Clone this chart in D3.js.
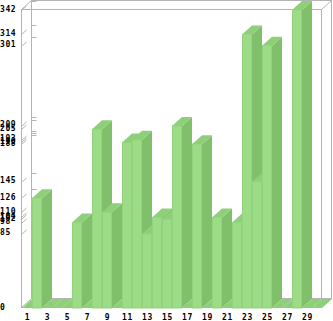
<!DOCTYPE html>
<html>
<head>
<meta charset="utf-8">
<script src="https://cdn.jsdelivr.net/npm/d3@7"></script>
<style>
	body { margin: 0; background: #fff; }
	text { font-family: "DejaVu Sans Mono", monospace; font-size: 8px; font-weight: bold; letter-spacing: 0.6px; fill: #000; }
</style>
</head>
<body>
<div class="chart"></div>
<script>
var categories = ["1", "2", "3", "4", "5", "6", "7", "8", "9", "10",
	"11", "12", "13", "14", "15", "16", "17", "18", "19", "20",
	"21", "22", "23", "24", "25", "26", "27", "28", "29", "30"];
var values = [0, 126, 0, 0, 0, 98, 0, 205, 110, 0,
	190, 193, 85, 104, 102, 209, 0, 188, 0, 104,
	0, 98, 314, 145, 301, 0, 0, 342, 0, 0];
var xTickLabels = ["1", "3", "5", "7", "9", "11", "13", "15", "17", "19", "21", "23", "25", "27", "29"];

var w = 333,
	h = 321,
	plotLeft = 22,
	plotRight = 322,
	plotTop = 10,
	plotBottom = 308,
	dx = 10,
	dy = 9;

var svg = d3.select(".chart").append("svg").attr("width", w).attr("height", h);

var xScale = d3.scaleBand().domain(categories).range([plotLeft, plotRight]).padding(0);
var yScale = d3.scaleLinear().domain([0, 342]).range([plotBottom, plotTop]);

// tick values are the distinct data values
var yTicks = Array.from(new Set(values)).sort((a, b) => a - b);

// wireframe box
var frame = svg.append("g").attr("fill", "none").attr("stroke", "#b4b4b4").attr("stroke-width", 1);
var L = plotLeft - 0.5, R = plotRight - 0.5, T = plotTop - 0.5, B = plotBottom - 0.5;
frame.append("rect").attr("x", L + dx).attr("y", T - dy).attr("width", R - L).attr("height", B - T);
frame.append("rect").attr("x", L).attr("y", T).attr("width", R - L).attr("height", B - T);
[[L, T], [R, T], [R, B], [L, B]].forEach(function (p) {
	frame.append("line").attr("x1", p[0]).attr("y1", p[1]).attr("x2", p[0] + dx).attr("y2", p[1] - dy);
});

// wall tick marks
frame
	.selectAll(".wtick")
	.data(yTicks.filter((d) => d > 0))
	.enter()
	.append("line")
	.attr("x1", L)
	.attr("y1", (d) => Math.round(yScale(d)) + 0.5)
	.attr("x2", L + dx / 2)
	.attr("y2", (d) => Math.round(yScale(d)) + 0.5 - dy / 2);
frame
	.selectAll(".btick")
	.data(yTicks.filter((d) => d > 0))
	.enter()
	.append("line")
	.attr("x1", L + dx)
	.attr("y1", (d) => Math.round(yScale(d) - dy) + 0.5)
	.attr("x2", L + dx + 5)
	.attr("y2", (d) => Math.round(yScale(d) - dy) + 0.5);

// bars, left to right so later fronts cover earlier sides
var bw = xScale.bandwidth();
var bars = svg
	.append("g")
	.selectAll("g")
	.data(categories.map((c, i) => ({ cat: c, v: values[i] })))
	.enter()
	.append("g");

bars
	.append("path")
	.attr("fill", "#80c06b")
	.attr("d", function (d) {
		var x = xScale(d.cat) + bw, y = yScale(d.v);
		return "M" + x + "," + y + "L" + (x + dx) + "," + (y - dy) + "L" + (x + dx) + "," + (plotBottom - dy) + "L" + x + "," + plotBottom + "Z";
	});
bars
	.append("path")
	.attr("fill", "#8dd079")
	.attr("d", function (d) {
		var x = xScale(d.cat), y = yScale(d.v);
		return "M" + x + "," + y + "L" + (x + bw) + "," + y + "L" + (x + bw + dx) + "," + (y - dy) + "L" + (x + dx) + "," + (y - dy) + "Z";
	});
bars
	.append("rect")
	.attr("fill", "#9cdc86")
	.attr("stroke", "#93d37e")
	.attr("stroke-width", 1)
	.attr("x", (d) => xScale(d.cat) + 0.5)
	.attr("y", (d) => yScale(d.v))
	.attr("width", bw - 1)
	.attr("height", (d) => plotBottom - yScale(d.v));

// y labels, left aligned
svg
	.append("g")
	.selectAll("text")
	.data(yTicks)
	.enter()
	.append("text")
	.attr("x", 0)
	.attr("y", (d) => yScale(d) + 1.5)
	.text((d) => d);

// x labels
svg
	.append("g")
	.selectAll("text")
	.data(xTickLabels)
	.enter()
	.append("text")
	.attr("x", (d) => xScale(d) + bw / 2 + 0.5)
	.attr("y", 320)
	.attr("text-anchor", "middle")
	.text((d) => d);
</script>
</body>
</html>
